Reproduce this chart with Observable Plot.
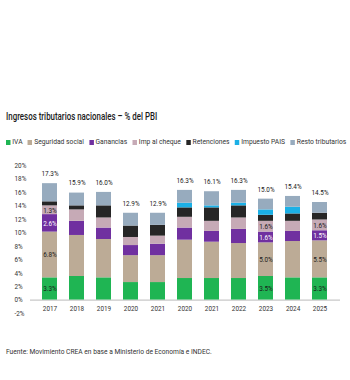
<!DOCTYPE html>
<html><head><meta charset="utf-8">
<script src="https://cdn.jsdelivr.net/npm/d3@7"></script>
<script src="https://cdn.jsdelivr.net/npm/@observablehq/plot@0.6"></script>
<style>
body{margin:0;background:#fff;width:350px;height:380px;position:relative;overflow:hidden;
font-family:Roboto,"Noto Sans",sans-serif;}
.fit{position:absolute;left:6px;white-space:nowrap;transform-origin:0 50%;}
#title{top:110px;font-size:11px;font-weight:500;color:#1a1a1a;}
#legend{top:137px;font-size:7.5px;color:#333;display:flex;gap:6px;}
#legend span.sw{display:inline-block;width:5px;height:5px;margin-right:2px;vertical-align:-0.5px;}
#chart{position:absolute;left:0;top:155px;}
#caption{top:347px;font-size:7.5px;color:#333;}
</style></head>
<body>
<div id="title" class="fit">Ingresos tributarios nacionales – % del PBI</div>
<div id="legend" class="fit"></div>
<div id="chart"></div>
<div id="caption" class="fit">Fuente: Movimiento CREA en base a Ministerio de Economía e INDEC.</div>
<script>
const years = ["2017","2018","2019","2020","2021","2020","2021","2022","2023","2024","2025"];
const seriesNames = ["IVA","Seguridad social","Ganancias","Imp al cheque","Retenciones","Impuesto PAIS","Resto tributarios"];
const colors = ["#1fb553","#bcab96","#7030a0","#c6aab6","#262626","#1bb0e6","#97abbe"];
const iva    = [3.3,3.5,3.3,2.6,2.6,3.2,3.2,3.2,3.5,3.3,3.3];
const seg    = [6.8,6.1,5.7,4.0,4.0,5.7,5.4,5.2,5.0,5.4,5.5];
const gan    = [2.6,2.1,1.7,1.5,1.7,1.8,1.6,2.1,1.6,1.5,1.5];
const cheque = [1.3,1.7,1.5,1.2,1.2,1.6,1.5,1.7,1.6,1.5,1.6];
const ret    = [0.6,0.6,1.8,1.7,1.6,1.4,2.0,1.8,0.9,1.1,1.0];
const pais   = [0,0,0,0,0,0.7,0.3,0.4,0.8,1.0,0];
const resto  = [2.7,1.9,2.0,1.9,1.8,1.9,2.1,1.9,1.6,1.6,1.6];
const totals = [17.3,15.9,16.0,12.9,12.9,16.3,16.1,16.3,15.0,15.4,14.5];
const labeledBars = [0,8,10];
const labeledSeries = ["IVA","Seguridad social","Ganancias","Imp al cheque"];
const yTicks = [-2,0,2,4,6,8,10,12,14,16,18,20];

const values = [iva,seg,gan,cheque,ret,pais,resto];
const rows = [];
seriesNames.forEach((s,k)=>values[k].forEach((v,i)=>rows.push({i,serie:s,value:v})));

// legend
const lg = document.getElementById("legend");
seriesNames.forEach((s,k)=>{
  const d=document.createElement("div");
  d.innerHTML=`<span class="sw" style="background:${colors[k]}"></span>${s}`;
  lg.appendChild(d);
});

const labelRows = rows.filter(r=>labeledBars.includes(r.i) && labeledSeries.includes(r.serie));

const chart = Plot.plot({
  width:350, height:170,
  marginTop:10, marginBottom:12, marginLeft:25, marginRight:6,
  style:{fontFamily:"Roboto, sans-serif", fontSize:"7.5px", color:"#333", background:"#fff"},
  x:{type:"band", domain:d3.range(years.length), padding:0.46, label:null, axis:null},
  y:{domain:[-2,20], label:null},
  color:{domain:seriesNames, range:colors},
  marks:[
    Plot.ruleY([0],{stroke:"#c8c8c8", strokeWidth:1.2, insetLeft:5, insetRight:4}),
    Plot.barY(rows, Plot.stackY({x:"i", y:"value", fill:"serie", order:null})),
    Plot.text(labelRows, Plot.stackY({x:"i", y:"value", z:"serie", order:null,
      text:d=>d.value.toFixed(1)+"%",
      fill:d=>d.serie==="Ganancias"?"#fff":"#1a1a1a", fontWeight:d=>d.serie==="Ganancias"?"bold":"normal"})),
    Plot.text(totals,{x:(d,i)=>i, y:d=>d, text:d=>d.toFixed(1)+"%", dy:-10, fill:"#1a1a1a"}),
    Plot.axisY(yTicks,{tickSize:0, tickPadding:0, textAnchor:"start", dx:-11, tickFormat:d=>d+"%", fill:"#333"}),
    Plot.text(years,{x:(d,i)=>i, text:d=>d, frameAnchor:"bottom", dy:-3, fill:"#333"})
  ]
});
document.getElementById("chart").appendChild(chart);

// condense SVG texts horizontally (reference uses a condensed face)
chart.querySelectorAll("text").forEach(t=>{
  const b=t.getBBox(); const cx=b.x+b.width/2;
  const anchor=t.getAttribute("text-anchor")||t.parentNode.getAttribute("text-anchor");
  const ax = anchor==="start" ? b.x : cx;
  const prev=t.getAttribute("transform")||"";
  t.setAttribute("transform",`${prev} translate(${ax},0) scale(0.85,1) translate(${-ax},0)`);
});
// fit HTML texts to the reference widths
function fit(id,w){const e=document.getElementById(id);e.style.transform=`scaleX(${w/e.scrollWidth})`;}
fit("title",151); fit("legend",340); fit("caption",206);
</script>
</body></html>
